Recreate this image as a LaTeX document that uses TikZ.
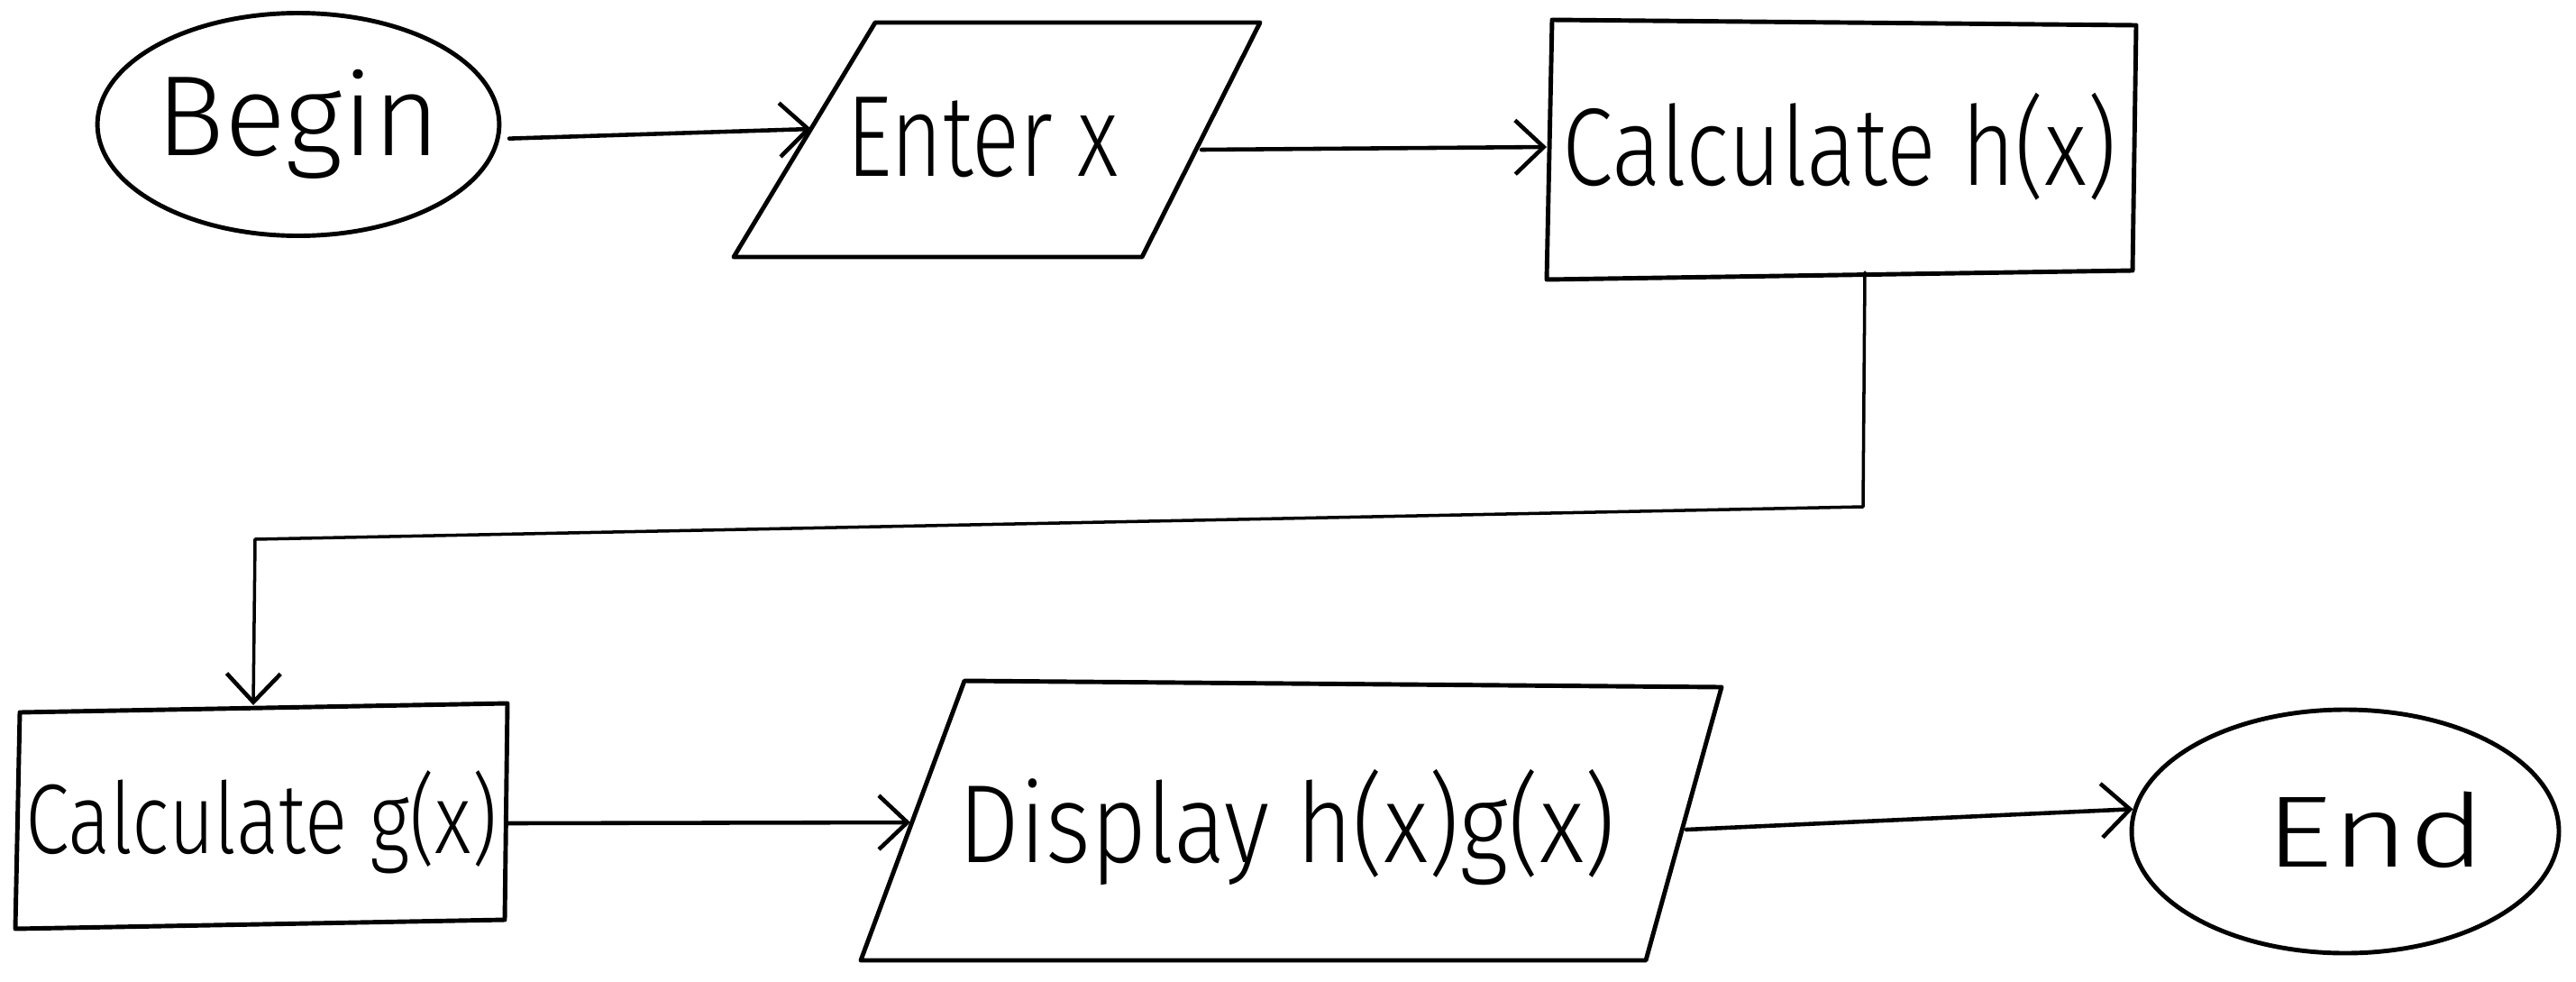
\documentclass[tikz,border=0pt]{standalone}
\usepackage{fontspec}
\usepackage{graphicx}
\setmainfont{Fira Sans Light}
\usetikzlibrary{arrows.meta,shapes.geometric}
\begin{document}
\begin{tikzpicture}[x=1cm,y=1cm,
  outline/.style={line width=1.4pt, line join=round, line cap=round},
  lbl/.style={inner sep=0pt, font=\fontsize{#1pt}{#1pt}\selectfont},
  terminal/.style={ellipse, draw, line width=1.4pt, inner sep=0pt},
  conn/.style={line width=1.3pt, line cap=round, line join=round,
    -{Straight Barb[length=9pt,width=17pt,line width=1.3pt]}}]
\useasboundingbox[fill=white] (0,0) rectangle (28.58,-10.88);

% Begin
\node[terminal, minimum width=4.13cm, minimum height=2.47cm, lbl=36] (begin) at (3.31,-1.38) {Begin};

% Enter x (parallelogram)
\draw[outline] (8.14,-2.85) -- (9.71,-0.25) -- (13.98,-0.25) -- (12.67,-2.85) -- cycle;
\node[lbl=28] (enter) at (10.90,-1.52) {\scalebox{1}[1.3]{Enter x}};
\coordinate (enterL) at (9.00,-1.43);
\coordinate (enterR) at (13.33,-1.66);

% Calculate h(x)
\draw[outline] (17.22,-0.22) -- (23.70,-0.28) -- (23.66,-3.00) -- (17.16,-3.10) -- cycle;
\node[lbl=29] (calch) at (20.41,-1.63) {\scalebox{1}[1.2]{Calculate h(x)}};
\coordinate (hL) at (17.16,-1.63);
\coordinate (hB) at (20.69,-3.02);
\coordinate (hturn) at (20.67,-5.62);
\coordinate (gturn) at (2.83,-5.98);
\coordinate (gT) at (2.81,-7.82);

% Calculate g(x)
\draw[outline] (0.22,-7.90) -- (5.63,-7.80) -- (5.60,-10.20) -- (0.17,-10.30) -- cycle;
\node[lbl=25] (calcg) at (2.90,-9.12) {\scalebox{1}[1.25]{Calculate g(x)}};
\coordinate (gR) at (5.63,-9.13);

% Display h(x)g(x) (parallelogram)
\draw[outline] (9.55,-10.65) -- (10.70,-7.55) -- (19.10,-7.62) -- (18.26,-10.65) -- cycle;
\node[lbl=30.5] (display) at (14.28,-9.18) {\scalebox{1}[1.15]{Display h(x)g(x)}};
\coordinate (dL) at (10.10,-9.12);
\coordinate (dR) at (18.71,-9.20);

% End
\node[terminal, minimum width=4.74cm, minimum height=2.70cm] (end) at (26.02,-9.22) {};
\node[lbl=32] (endtxt) at (26.36,-9.20) {\scalebox{1.3}[1]{End}};

% connectors
\draw[conn] ([xshift=3pt]begin.-4) -- (enterL);
\draw[conn] (enterR) -- (hL);
\draw[conn, line width=1pt] (hB) -- (hturn) -- (gturn) -- (gT);
\draw[conn] (gR) -- (dL);
\draw[conn] (dR) -- (end.174);
\end{tikzpicture}
\end{document}
